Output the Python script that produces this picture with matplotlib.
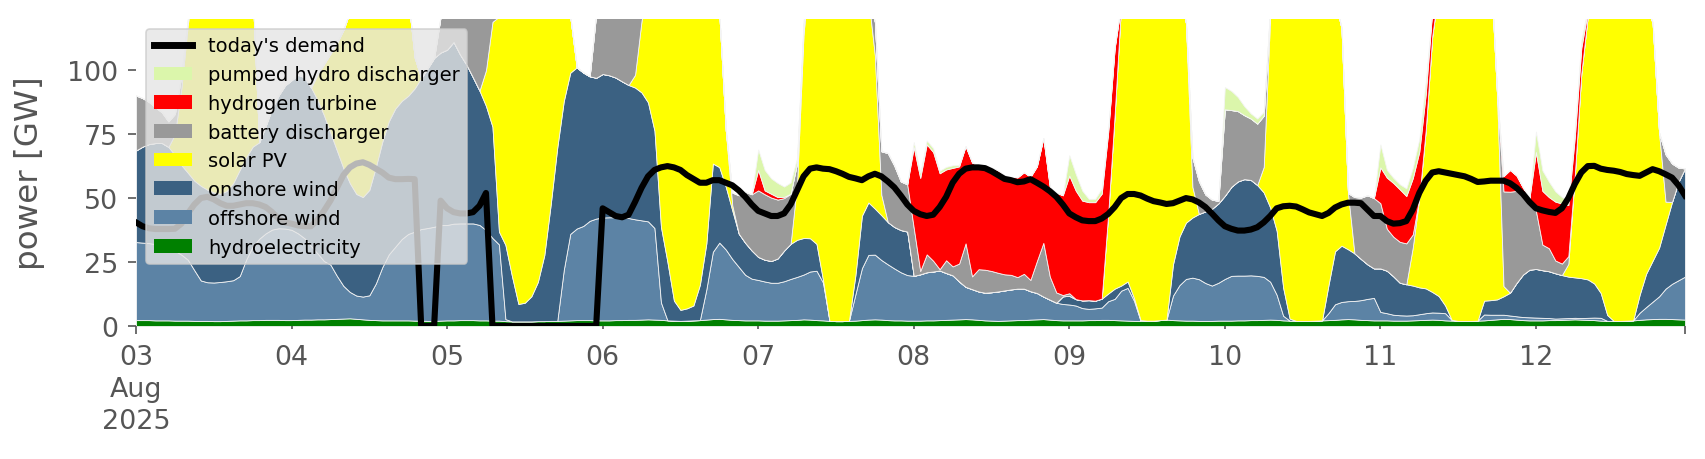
import matplotlib
matplotlib.use("Agg")
import matplotlib.pyplot as plt
from matplotlib.lines import Line2D
from matplotlib.patches import Patch
import pandas as pd

# hourly values, 2025-08-03 00:00 .. 2025-08-12 23:00, GW (one line per day)
hydro = [
    2.3, 2.3, 2.3, 2.2, 2.2, 2.2, 2.1, 2.1, 2.1, 2.0, 2.0, 2.0, 1.9, 1.9, 2.0, 2.1, 2.2, 2.2, 2.3, 2.3, 2.4, 2.4, 2.4, 2.3,
    2.3, 2.4, 2.5, 2.5, 2.6, 2.6, 2.7, 2.8, 2.9, 3.0, 2.8, 2.6, 2.4, 2.3, 2.2, 2.2, 2.2, 2.2, 2.2, 2.1, 2.1, 2.0, 2.0, 2.1,
    2.2, 2.2, 2.3, 2.3, 2.3, 2.2, 2.2, 2.1, 2.1, 1.9, 1.8, 1.8, 1.8, 1.8, 1.9, 1.9, 2.0, 2.0, 2.1, 2.2, 2.3, 2.3, 2.3, 2.2,
    2.2, 2.2, 2.3, 2.3, 2.4, 2.4, 2.5, 2.6, 2.5, 2.4, 2.2, 2.1, 2.0, 2.1, 2.2, 2.3, 2.5, 2.7, 2.8, 2.6, 2.4, 2.3, 2.2, 2.2,
    2.2, 2.1, 2.1, 2.1, 2.2, 2.3, 2.4, 2.6, 2.5, 2.3, 2.2, 2.0, 1.9, 1.9, 2.0, 2.1, 2.3, 2.5, 2.6, 2.5, 2.3, 2.2, 2.2, 2.1,
    2.1, 2.1, 2.2, 2.2, 2.3, 2.4, 2.5, 2.6, 2.7, 2.6, 2.4, 2.2, 2.1, 2.0, 2.1, 2.2, 2.3, 2.3, 2.5, 2.6, 2.7, 2.5, 2.3, 2.2,
    2.2, 2.2, 2.2, 2.3, 2.3, 2.4, 2.4, 2.3, 2.2, 2.1, 2.0, 2.0, 2.1, 2.1, 2.3, 2.5, 2.3, 2.2, 2.1, 2.1, 2.0, 2.0, 2.0, 2.1,
    2.1, 2.1, 2.2, 2.2, 2.3, 2.3, 2.4, 2.5, 2.4, 2.2, 2.1, 2.0, 2.0, 2.0, 2.1, 2.2, 2.3, 2.4, 2.6, 2.7, 2.6, 2.4, 2.3, 2.2,
    2.2, 2.2, 2.1, 2.1, 2.1, 2.2, 2.3, 2.4, 2.5, 2.4, 2.2, 2.1, 2.0, 2.0, 2.0, 2.1, 2.2, 2.4, 2.6, 2.8, 2.7, 2.5, 2.3, 2.2,
    2.2, 2.2, 2.3, 2.3, 2.4, 2.5, 2.6, 2.5, 2.4, 2.3, 2.1, 2.0, 2.0, 2.0, 2.1, 2.2, 2.4, 2.6, 2.7, 2.8, 2.8, 2.7, 2.6, 2.5,
]
offshore = [
    30.5, 30.3, 30.1, 29.8, 29.3, 28.3, 27.3, 25.8, 23.8, 19.8, 15.8, 15.1, 15.1, 15.3, 15.5, 15.8, 17.3, 23.8, 28.8, 31.8, 33.8, 35.3, 35.8, 35.8,
    35.3, 33.8, 31.8, 28.8, 25.8, 22.8, 21.3, 16.8, 12.8, 10.3, 9.1, 8.9, 9.6, 14.3, 20.8, 25.8, 28.8, 31.8, 33.8, 34.8, 35.8, 36.3, 36.8, 37.3,
    37.3, 37.8, 37.8, 37.8, 37.8, 37.3, 35.3, 32.3, 29.8, 0.8, 0, 0, 0, 0, 0, 0, 0, 0, 19.8, 33.8, 35.8, 36.8, 38.8, 39.8,
    40.2, 40.3, 40.2, 40.2, 39.8, 39.3, 38.8, 38.3, 35.8, 6.8, 0, 0, 0, 0, 0, 0, 11.8, 26.3, 29.8, 27.3, 23.8, 20.8, 17.8, 16.3,
    15.8, 15.3, 14.8, 14.8, 15.3, 16.1, 16.8, 17.5, 18.8, 19.3, 14.8, 0, 0, 0, 0, 10.3, 20.3, 25.3, 25.3, 23.3, 21.8, 20.3, 18.8, 17.8,
    17.5, 18.1, 18.8, 19.1, 19.4, 18.3, 17.3, 14.8, 12.6, 11.8, 11.1, 10.8, 11.1, 11.5, 11.8, 12.1, 12.3, 12.3, 11.1, 10.3, 8.8, 7.8, 6.8, 6.4,
    6.2, 5.8, 4.8, 4.4, 4.6, 4.8, 7.3, 8.3, 11.6, 12.8, 7.8, 0, 0, 0, 0, 0, 9.6, 13.8, 16.3, 16.8, 16.3, 14.8, 13.8, 14.8,
    16.3, 17.5, 17.5, 17.5, 17.5, 17.3, 16.8, 14.8, 9.8, 1.8, 0, 0, 0, 0, 0, 0, 2.8, 6.1, 6.8, 7.0, 7.2, 7.7, 8.3, 8.8,
    3.3, 2.8, 2.3, 2.1, 2.0, 2.0, 2.3, 2.6, 2.8, 2.8, 2.8, 0.3, 0, 0, 0, 0, 2.3, 2.0, 1.8, 1.6, 1.4, 1.3, 1.2, 1.2,
    1.1, 1.0, 0.8, 0.6, 0.6, 0.6, 0.6, 0.6, 0.8, 1.0, 1.1, 0, 0, 0, 0, 0, 2.8, 4.8, 6.8, 8.8, 11.8, 13.8, 15.3, 16.8,
]
onshore = [
    35.8, 37.5, 38.7, 39.5, 40.0, 39.5, 37.5, 35.0, 34.0, 35.0, 37.0, 36.2, 35.2, 34.5, 35.3, 38.0, 41.5, 40.0, 39.0, 37.7, 42.0, 47.5, 52.0, 56.0,
    58.5, 62.0, 63.0, 62.0, 60.0, 57.0, 51.5, 49.0, 46.0, 42.5, 39.7, 38.9, 41.2, 45.5, 49.0, 52.0, 54.0, 54.0, 54.0, 56.0, 59.0, 62.5, 66.0, 67.5,
    68.5, 71.0, 66.0, 62.0, 57.0, 52.5, 48.5, 43.5, 5.0, 29.0, 17.8, 6.8, 7.3, 9.8, 15.3, 25.8, 45.8, 67.8, 66.0, 63.0, 63.0, 60.0, 56.5, 55.0,
    56.1, 55.5, 54.6, 53.1, 52.0, 51.5, 50.0, 46.5, 38.0, 29.5, 22.8, 7.8, 4.3, 4.8, 5.8, 13.8, 18.0, 34.5, 29.5, 24.5, 19.0, 13.0, 12.5, 11.0,
    9.0, 8.5, 8.5, 9.5, 12.0, 13.7, 14.5, 14.3, 13.0, 10.5, 1.0, 0, 0, 0, 0, 7.5, 20.5, 20.5, 18.0, 17.5, 16.5, 16.2, 16.5, 17.0,
    0, 0, 0, 0, 0, 0, 0, 0, 0, 0, 0, 0, 0, 0, 0, 0, 0, 0, 0, 0, 0, 0, 0, 3.0,
    3.4, 2.5, 3.0, 3.4, 3.0, 3.5, 3.0, 4.0, 2.0, 2.5, 1.0, 0.3, 0, 0, 0, 0, 12.2, 19.0, 22.0, 23.5, 25.5, 28.0, 30.0, 31.0,
    32.5, 34.8, 36.8, 37.7, 37.3, 35.5, 33.0, 29.0, 25.0, 11.0, 0.8, 0, 0, 0, 0, 0, 11.0, 20.7, 22.0, 20.3, 18.6, 16.1, 13.5, 11.5,
    17.0, 16.6, 15.0, 12.7, 12.2, 11.6, 10.5, 9.7, 8.0, 6.5, 3.0, 0, 0, 0, 0, 0, 5.4, 5.7, 6.0, 7.2, 8.9, 13.0, 16.6, 18.6,
    19.0, 18.6, 18.3, 17.7, 16.9, 16.2, 15.8, 15.6, 15.0, 13.3, 9.7, 2.3, 0, 0, 0, 0, 7.0, 13.0, 16.0, 19.0, 25.0, 32.0, 38.5, 42.3,
]
solar = [
    0, 0, 0, 0, 0, 0, 8, 30, 58, 80, 100, 115, 122, 125, 120, 110, 95, 78, 60, 0, 0, 0, 0, 0,
    0, 0, 0, 0, 10, 20, 31, 42, 54, 67, 85, 100, 105, 100, 90, 80, 70, 55, 38, 12, 0, 0, 0, 0,
    0, 0, 0, 0, 0, 0, 14, 41, 84, 100, 115, 125, 130, 128, 122, 110, 95, 75, 50, 22, 0, 0, 0, 0,
    0, 0, 0, 0, 0, 5, 28, 45, 60, 90, 105, 120, 125, 125, 120, 110, 90, 65, 60, 22, 2, 0, 0, 0,
    0, 0, 0, 0, 0, 0, 22, 80, 105, 125, 135, 135, 135, 135, 132, 125, 100, 80, 60, 8, 0, 0, 0, 0,
    0, 0, 0, 0, 0, 0, 0, 0, 0, 0, 0, 0, 0, 0, 0, 0, 0, 0, 0, 0, 0, 0, 0, 0,
    0, 0, 0, 0, 0, 0, 31, 68, 110, 125, 135, 140, 140, 138, 132, 125, 110, 95, 78, 12, 0, 0, 0, 0,
    0, 0, 0, 0, 0, 0, 10, 75, 95, 115, 125, 130, 132, 132, 130, 128, 112, 98, 85, 22, 0, 0, 0, 0,
    0, 0, 0, 0, 0, 15, 35, 62, 100, 120, 125, 135, 140, 140, 135, 128, 125, 130, 80, 4, 0, 0, 0, 0,
    0, 0, 0, 0, 0, 5, 40, 80, 103, 115, 122, 128, 130, 130, 128, 122, 110, 105, 93, 45, 9, 0, 0, 0,
]
battery = [
    21.5, 19.0, 16.5, 14.0, 12.0, 10.0, 8.0, 5.0, 2.0, 0, 0, 0, 0, 0, 0, 0, 0, 0, 0, 0, 0, 0, 0, 0,
    0, 0, 0, 0, 0, 0, 0, 0, 0, 0, 0, 0, 0, 0, 0, 0, 0, 0, 0, 0, 0, 0, 0, 14.0,
    15.0, 12.0, 17.0, 22.0, 26.0, 30.0, 25.0, 12.0, 0, 0, 0, 0, 0, 0, 0, 0, 0, 0, 0, 0, 0, 0, 0, 25.0,
    25.0, 24.0, 25.0, 26.0, 28.0, 24.0, 3.0, 0, 0, 0, 0, 0, 0, 0, 0, 0, 0, 0, 0, 0, 5.0, 15.0, 20.0, 22.0,
    26.0, 25.6, 24.8, 23.0, 20.5, 19.6, 8.0, 3.0, 0, 0, 0, 0, 0, 0, 0, 0, 0, 0, 13.0, 17.0, 27.0, 24.0, 19.0, 18.5,
    18.8, 1.3, 7.0, 4.2, 0.5, 5.0, 3.5, 7.0, 17.0, 5.0, 8.7, 9.0, 8.3, 7.3, 6.3, 5.7, 4.5, 5.8, 4.4, 12.5, 21.0, 9.0, 4.0, 0.5,
    1.0, 0, 0, 0, 0, 0, 0, 0, 0, 0, 0, 0, 0, 0, 0, 0, 0, 0, 0, 11.5, 12.8, 6.6, 3.6, 1.0,
    33.8, 30.0, 27.5, 25.0, 24.0, 24.0, 20.0, 3.0, 0, 0, 0, 0, 0, 0, 0, 0, 0, 0, 0, 0, 22.0, 24.0, 27.0, 27.5,
    25.5, 16.4, 15.5, 16.0, 16.0, 5.0, 0, 0, 0, 0, 0, 0, 0, 0, 0, 0, 0, 0, 0, 37.0, 39.5, 36.0, 32.0, 28.0,
    22.7, 10.0, 9.0, 5.0, 4.5, 3.0, 0, 0, 0, 0, 0, 0, 0, 0, 0, 0, 0, 0, 0, 0, 18.5, 15.0, 5.5, 0,
]
hydrogen = [
    0, 0, 0, 0, 0, 0, 0, 0, 0, 0, 0, 0, 0, 0, 0, 0, 0, 0, 0, 0, 0, 0, 0, 0,
    0, 0, 0, 0, 0, 0, 0, 0, 0, 0, 0, 0, 0, 0, 0, 0, 0, 0, 0, 0, 0, 0, 0, 0,
    0, 0, 0, 0, 0, 0, 0, 0, 0, 0, 0, 0, 0, 0, 0, 0, 0, 0, 0, 0, 0, 0, 0, 0,
    0, 0, 0, 0, 0, 0, 0, 0, 0, 0, 0, 0, 0, 0, 0, 0, 0, 0, 0, 0, 0, 0, 0, 0,
    8.0, 1.5, 1.5, 1.0, 0.5, 0, 0, 0, 0, 0, 0, 0, 0, 0, 0, 0, 0, 0, 0, 0, 0, 0, 0, 0,
    31.5, 36.4, 43.0, 42.5, 37.5, 35.5, 38.5, 38.0, 38.0, 44.5, 40.5, 40.5, 40.4, 40.0, 38.7, 38.3, 39.0, 39.7, 40.3, 37.0, 41.0, 35.0, 39.0, 39.0,
    46.0, 42.4, 39.0, 38.3, 38.5, 41.0, 32.0, 26.0, 0, 0, 0, 0, 0, 0, 0, 0, 0, 0, 0, 0, 0, 0, 0, 0,
    0, 0, 0, 0, 0, 0, 0, 0, 0, 0, 0, 0, 0, 0, 0, 0, 0, 0, 0, 0, 0, 0, 0, 0,
    14.0, 20.0, 21.0, 20.5, 18.5, 22.0, 18.0, 14.0, 10.0, 0, 0, 0, 0, 0, 0, 0, 0, 0, 0, 6.0, 8.5, 6.0, 2.0, 0,
    23.0, 21.0, 20.0, 23.0, 23.5, 20.0, 15.0, 10.0, 2.0, 0, 0, 0, 0, 0, 0, 0, 0, 0, 0, 0, 0, 0, 0, 0,
]
pumped_hydro = [
    0, 0, 0, 0, 0, 0, 0, 0, 0, 0, 0, 0, 0, 0, 0, 0, 0, 0, 0, 0, 0, 0, 0, 0,
    0, 0, 0, 0, 0, 0, 0, 0, 0, 0, 0, 0, 0, 0, 0, 0, 0, 0, 0, 0, 0, 0, 0, 0,
    0, 0, 0, 0, 0, 0, 0, 0, 0, 0, 0, 0, 0, 0, 0, 0, 0, 0, 0, 0, 0, 0, 0, 0,
    0, 0, 0, 0, 0, 0, 0, 0, 0, 0, 0, 0, 0, 0, 0, 0, 0, 0, 0, 0, 0, 0, 0, 0,
    8.0, 8.0, 6.0, 5.5, 4.0, 4.4, 2.0, 2.0, 0, 0, 0, 0, 0, 0, 0, 0, 0, 0, 0, 0, 0, 0, 0, 0,
    2.0, 2.0, 1.5, 1.5, 1.0, 1.0, 1.0, 0.5, 0, 0, 0, 0, 0, 0, 0, 0, 0, 0, 0, 0, 0, 0, 0, 0,
    8.0, 6.5, 3.9, 1.3, 1.3, 2.0, 1.0, 0, 0, 0, 0, 0, 0, 0, 0, 0, 0, 0, 0, 0, 0, 0, 0, 0,
    8.7, 7.5, 5.5, 3.5, 2.0, 2.0, 1.5, 0.5, 0, 0, 0, 0, 0, 0, 0, 0, 0, 0, 0, 0, 0, 0, 0, 0,
    9.0, 3.0, 2.0, 2.0, 3.0, 4.0, 5.0, 5.0, 0, 0, 0, 0, 0, 0, 0, 0, 0, 0, 0, 0, 0, 0, 0, 0,
    8.0, 8.0, 6.0, 4.0, 2.5, 2.0, 3.0, 3.0, 1.0, 0, 0, 0, 0, 0, 0, 0, 0, 0, 0, 0, 0, 0, 0, 0,
]
demand = [
    40.5, 39.0, 38.2, 37.9, 37.9, 37.9, 38.0, 40.0, 44.0, 47.5, 50.0, 50.5, 49.5, 48.0, 47.0, 47.0, 47.5, 48.0, 48.0, 47.5, 46.5, 44.5, 42.0, 40.5,
    40.0, 39.3, 39.0, 39.0, 41.5, 45.0, 49.0, 54.0, 59.0, 62.0, 63.5, 64.0, 63.0, 61.5, 60.0, 58.0, 57.4, 57.4, 57.5, 57.4, 0, 0, 0, 49.0,
    46.0, 44.5, 44.0, 44.0, 44.5, 47.0, 52.0, 0, 0, 0, 0, 0, 0, 0, 0, 0, 0, 0, 0, 0, 0, 0, 0, 0,
    46.0, 44.5, 43.0, 42.5, 43.5, 48.5, 54.0, 58.5, 61.0, 62.0, 62.5, 62.0, 61.0, 59.0, 57.5, 56.0, 56.0, 57.0, 57.0, 56.0, 55.0, 53.0, 50.5, 47.5,
    45.0, 44.0, 43.0, 43.0, 44.0, 47.5, 53.0, 58.5, 61.5, 62.0, 61.5, 61.3, 60.5, 59.5, 58.3, 57.7, 57.0, 58.5, 59.5, 58.5, 56.5, 54.2, 51.0, 47.5,
    45.0, 43.7, 43.0, 43.5, 46.5, 50.5, 56.0, 59.5, 61.5, 62.0, 62.0, 61.7, 60.5, 59.0, 57.5, 57.0, 56.2, 56.5, 57.4, 56.0, 54.5, 52.7, 50.5, 47.5,
    44.0, 42.5, 41.3, 41.0, 41.0, 42.0, 43.8, 46.5, 50.0, 51.6, 51.6, 51.0, 49.8, 48.8, 48.3, 47.7, 48.0, 49.0, 50.0, 49.5, 48.3, 46.5, 44.0, 41.3,
    39.0, 38.0, 37.3, 37.3, 37.7, 38.6, 40.5, 43.0, 46.0, 46.8, 47.0, 46.7, 45.6, 44.4, 43.7, 43.0, 44.2, 46.3, 47.5, 48.2, 48.2, 48.0, 45.5, 43.0,
    43.0, 41.0, 40.0, 40.2, 41.0, 45.5, 52.0, 56.8, 60.0, 60.5, 60.0, 59.5, 59.0, 58.5, 57.5, 56.3, 56.5, 56.8, 56.8, 56.8, 55.8, 54.0, 51.6, 48.5,
    46.0, 45.2, 44.6, 44.2, 46.0, 50.0, 55.5, 60.0, 62.5, 62.6, 61.5, 61.0, 60.7, 60.2, 59.4, 59.0, 58.7, 60.0, 61.3, 60.5, 59.3, 58.0, 55.0, 51.0,
]

carriers = ["hydroelectricity", "offshore wind", "onshore wind", "solar PV",
            "battery discharger", "hydrogen turbine", "pumped hydro discharger"]
colors = ["#008000", "#5c83a5", "#3b6182", "#ffff00",
          "#999999", "#ff0000", "#dbf6ab"]
stack = [hydro, offshore, onshore, solar, battery, hydrogen, pumped_hydro]

GREY = "#555555"

idx = pd.date_range("2025-08-03 00:00", periods=len(demand), freq="h")
for s in stack:
    assert len(s) == len(idx)

fig = plt.figure(figsize=(8.53, 2.3), dpi=200)
ax = fig.add_axes([136 / 1706, 133 / 460, (1685 - 136) / 1706, (327 - 20) / 460])

ax.stackplot(idx, *stack, colors=colors, linewidth=0.3, edgecolor="#f4f4f4")
ax.plot(idx, demand, color="black", lw=2.2)

ax.set_xlim(idx[0], idx[-1])
ax.set_ylim(0, 120)
ax.set_yticks([0, 25, 50, 75, 100])
ax.set_ylabel("power [GW]", fontsize=11.7, color=GREY, labelpad=8)

# pandas-style date axis: first day/month/year as major, other days as minor
days = pd.date_range("2025-08-04", "2025-08-12", freq="D")
ax.set_xticks([idx[0], idx[-1]])
ax.set_xticklabels(["03\nAug\n2025", ""])
ax.set_xticks(days, minor=True)
ax.set_xticklabels([d.strftime("%d") for d in days], minor=True)
for lab in ax.get_xticklabels():
    lab.set_linespacing(1.3)

ax.tick_params(axis="both", which="major", labelsize=9.7, colors=GREY,
               length=3, width=0.6, pad=3.5)
ax.tick_params(axis="x", which="minor", labelsize=9.7, colors=GREY,
               length=1.2, width=0.6, pad=5.3)
for sp in ax.spines.values():
    sp.set_visible(False)

handles = [Line2D([], [], color="black", lw=2.5)]
labels = ["today's demand"]
for name, c in reversed(list(zip(carriers, colors))):
    handles.append(Patch(facecolor=c, edgecolor="none"))
    labels.append(name)
leg = ax.legend(handles, labels, loc="upper left", fontsize=7, frameon=True,
                fancybox=True, framealpha=0.8, borderaxespad=0.5)
leg.get_frame().set_facecolor("#e5e5e5")
leg.get_frame().set_edgecolor("#cccccc")
leg.get_frame().set_linewidth(0.6)

fig.savefig("out.png", dpi=200, facecolor="white")
